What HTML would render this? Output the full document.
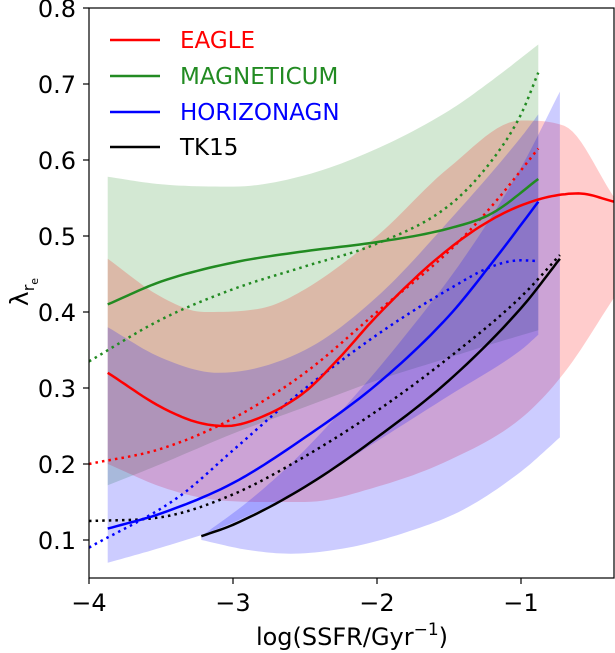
<!DOCTYPE html>
<html><head><meta charset="utf-8"><style>
html,body{margin:0;padding:0;background:#fff;}
svg{display:block;font-family:"DejaVu Sans","Liberation Sans",sans-serif;}
</style></head><body>
<svg id="chart" width="615" height="653" xmlns="http://www.w3.org/2000/svg">
<g id="bands"></g>
<g id="lines"></g>
<rect x="89" y="8" width="525" height="570" fill="none" stroke="#000" stroke-width="1.2"/>
<g id="ticks"></g>
<text x="352" y="645" font-size="24" text-anchor="middle">log(SSFR/Gyr<tspan font-size="17" dy="-10">−1</tspan><tspan dy="10">)</tspan></text>
<text transform="translate(28,292) rotate(-90)" font-size="25" text-anchor="middle">λ<tspan font-size="16" dy="6">r</tspan><tspan font-size="11" dy="4">e</tspan></text>
<g>
<line x1="110" y1="40" x2="160" y2="40" stroke="#ff0000" stroke-width="2.5"/>
<text x="180" y="48" font-size="23" fill="#ff0000">EAGLE</text>
<line x1="110" y1="76" x2="160" y2="76" stroke="#228b22" stroke-width="2.5"/>
<text x="180" y="84" font-size="23" fill="#228b22">MAGNETICUM</text>
<line x1="110" y1="112" x2="160" y2="112" stroke="#0000ff" stroke-width="2.5"/>
<text x="180" y="120" font-size="23" fill="#0000ff">HORIZONAGN</text>
<line x1="110" y1="147" x2="160" y2="147" stroke="#000" stroke-width="2.5"/>
<text x="180" y="155" font-size="23" fill="#000">TK15</text>
</g>
</svg>
<script>
const xTicks = [-4, -3, -2, -1];
const yTicks = [0.1, 0.2, 0.3, 0.4, 0.5, 0.6, 0.7, 0.8];
const xTickLabels = ["−4", "−3", "−2", "−1"];
const yTickLabels = ["0.1", "0.2", "0.3", "0.4", "0.5", "0.6", "0.7", "0.8"];

const greenBandX = [-3.87, -3.5, -3, -2.5, -2, -1.5, -1.2, -0.88];
const greenBandHi = [0.578, 0.568, 0.565, 0.58, 0.615, 0.665, 0.705, 0.752];
const greenBandLo = [0.172, 0.2, 0.24, 0.275, 0.31, 0.34, 0.358, 0.376];
const redBandX = [-3.87, -3.5, -3.2, -2.8, -2.5, -2, -1.5, -1, -0.7, -0.35];
const redBandHi = [0.47, 0.42, 0.40, 0.405, 0.43, 0.50, 0.59, 0.652, 0.645, 0.55];
const redBandLo = [0.2, 0.17, 0.155, 0.15, 0.15, 0.17, 0.205, 0.26, 0.32, 0.42];
const horizonBandX = [-3.87, -3.5, -3.1, -2.5, -2, -1.5, -1, -0.88];
const horizonBandHi = [0.38, 0.34, 0.32, 0.35, 0.42, 0.52, 0.63, 0.66];
const horizonBandLo = [0.07, 0.09, 0.115, 0.17, 0.23, 0.29, 0.35, 0.37];
const tkBandX = [-3.22, -2.9, -2.6, -2.2, -1.8, -1.4, -1, -0.73];
const tkBandHi = [0.105, 0.15, 0.2, 0.28, 0.37, 0.47, 0.59, 0.69];
const tkBandLo = [0.1, 0.087, 0.082, 0.09, 0.11, 0.14, 0.19, 0.235];

const eagleX = [-3.87, -3.5, -3.25, -3.05, -2.8, -2.5, -2.26, -2, -1.56, -1.2, -0.88, -0.6, -0.35];
const eagleY = [0.32, 0.275, 0.255, 0.25, 0.262, 0.295, 0.34, 0.395, 0.474, 0.522, 0.548, 0.556, 0.545];
const eagleDotX = [-4, -3.5, -3, -2.5, -2, -1.5, -1.2, -0.88];
const eagleDotY = [0.20, 0.22, 0.26, 0.32, 0.40, 0.48, 0.54, 0.615];
const magX = [-3.87, -3.5, -3, -2.5, -2, -1.5, -1.2, -0.88];
const magY = [0.41, 0.44, 0.465, 0.48, 0.492, 0.51, 0.53, 0.575];
const magDotX = [-4, -3.5, -3, -2.5, -2, -1.5, -1.2, -1, -0.88];
const magDotY = [0.335, 0.39, 0.43, 0.46, 0.49, 0.54, 0.60, 0.66, 0.715];
const horX = [-3.87, -3.5, -3, -2.5, -2, -1.5, -1.2, -0.88];
const horY = [0.115, 0.135, 0.175, 0.235, 0.305, 0.395, 0.465, 0.545];
const horDotX = [-4, -3.375, -3, -2.6, -2, -1.5, -1.2, -1, -0.88];
const horDotY = [0.09, 0.157, 0.218, 0.284, 0.37, 0.43, 0.46, 0.468, 0.467];
const tkX = [-3.22, -3, -2.5, -2, -1.5, -1, -0.73];
const tkY = [0.105, 0.12, 0.17, 0.235, 0.31, 0.405, 0.47];
const tkDotX = [-4, -3.5, -3, -2.5, -2, -1.5, -1, -0.73];
const tkDotY = [0.125, 0.13, 0.16, 0.21, 0.27, 0.34, 0.42, 0.475];

const X0 = 89, PXU = 144, Y0 = 8, PYU = 760;
function sx(v){ return X0 + (v + 4) * PXU; }
function sy(v){ return Y0 + (0.8 - v) * PYU; }
const NS = "http://www.w3.org/2000/svg";

function sample(xs, ys){
  const n = xs.length, d = [], m = [];
  for (let i=0;i<n-1;i++) d.push((ys[i+1]-ys[i])/(xs[i+1]-xs[i]));
  m[0] = d[0]; m[n-1] = d[n-2];
  for (let i=1;i<n-1;i++) m[i] = (d[i-1]*d[i] <= 0) ? 0 : (d[i-1]+d[i])/2;
  for (let i=0;i<n-1;i++){
    if (d[i] === 0){ m[i]=0; m[i+1]=0; continue; }
    const a = m[i]/d[i], b = m[i+1]/d[i], s = a*a+b*b;
    if (s > 9){ const t = 3/Math.sqrt(s); m[i]=t*a*d[i]; m[i+1]=t*b*d[i]; }
  }
  const out = [];
  for (let i=0;i<n-1;i++){
    const h = xs[i+1]-xs[i];
    for (let k=0;k<12;k++){
      const t = k/12, t2=t*t, t3=t2*t;
      const y = (2*t3-3*t2+1)*ys[i] + (t3-2*t2+t)*h*m[i] + (-2*t3+3*t2)*ys[i+1] + (t3-t2)*h*m[i+1];
      out.push([sx(xs[i]+t*h), sy(y)]);
    }
  }
  out.push([sx(xs[n-1]), sy(ys[n-1])]);
  return out;
}
function pathOf(p, move){
  return p.map((q,i)=>((i===0 ? (move?"M":"L") : "L") + q[0].toFixed(1) + "," + q[1].toFixed(1))).join("");
}
const bandsG = document.getElementById("bands");
const linesG = document.getElementById("lines");
function band(xs, hi, lo, color, name){
  const up = sample(xs, hi), dn = sample(xs, lo).reverse();
  const el = document.createElementNS(NS, "path");
  el.setAttribute("d", pathOf(up, true) + pathOf(dn, false) + "Z");
  el.setAttribute("fill", color);
  el.setAttribute("fill-opacity", "0.2");
  
  
  bandsG.appendChild(el);
}
function line(xs, ys, color, dotted, name){
  const el = document.createElementNS(NS, "path");
  el.setAttribute("d", pathOf(sample(xs, ys), true));
  el.setAttribute("fill", "none");
  el.setAttribute("stroke", color);
  el.setAttribute("stroke-width", "2.5");
  if (dotted) el.setAttribute("stroke-dasharray", "2.5 4.1");
  
  
  linesG.appendChild(el);
}
const clip = document.createElementNS(NS, "clipPath");
clip.setAttribute("id", "pc");
const cr = document.createElementNS(NS, "rect");
cr.setAttribute("x", 89); cr.setAttribute("y", 8); cr.setAttribute("width", 525); cr.setAttribute("height", 570);
clip.appendChild(cr);
document.getElementById("chart").appendChild(clip);
bandsG.setAttribute("clip-path", "url(#pc)");
linesG.setAttribute("clip-path", "url(#pc)");

band(greenBandX, greenBandHi, greenBandLo, "#228b22", "magneticum-band");
band(redBandX, redBandHi, redBandLo, "#ff0000", "eagle-band");
band(horizonBandX, horizonBandHi, horizonBandLo, "#0000ff", "horizonagn-band");
band(tkBandX, tkBandHi, tkBandLo, "#0000ff", "tk15-band");

line(eagleDotX, eagleDotY, "#ff0000", true, "eagle-dotted-line");
line(magDotX, magDotY, "#228b22", true, "magneticum-dotted-line");
line(horDotX, horDotY, "#0000ff", true, "horizonagn-dotted-line");
line(tkDotX, tkDotY, "#000000", true, "tk15-dotted-line");
line(eagleX, eagleY, "#ff0000", false, "eagle-line");
line(magX, magY, "#228b22", false, "magneticum-line");
line(horX, horY, "#0000ff", false, "horizonagn-line");
line(tkX, tkY, "#000000", false, "tk15-line");

const tg = document.getElementById("ticks");
xTicks.forEach((v,i)=>{
  const t = document.createElementNS(NS, "line");
  t.setAttribute("x1", sx(v)); t.setAttribute("x2", sx(v));
  t.setAttribute("y1", 578); t.setAttribute("y2", 584);
  t.setAttribute("stroke", "#000"); t.setAttribute("stroke-width", "1.2");
  
  
  tg.appendChild(t);
  const l = document.createElementNS(NS, "text");
  l.setAttribute("x", sx(v)); l.setAttribute("y", 611);
  l.setAttribute("font-size", "24"); l.setAttribute("text-anchor", "middle");
  l.textContent = xTickLabels[i];
  
  
  tg.appendChild(l);
});
yTicks.forEach((v,i)=>{
  const t = document.createElementNS(NS, "line");
  t.setAttribute("x1", 83); t.setAttribute("x2", 89);
  t.setAttribute("y1", sy(v)); t.setAttribute("y2", sy(v));
  t.setAttribute("stroke", "#000"); t.setAttribute("stroke-width", "1.2");
  
  
  tg.appendChild(t);
  const l = document.createElementNS(NS, "text");
  l.setAttribute("x", 76); l.setAttribute("y", sy(v) + 9);
  l.setAttribute("font-size", "24"); l.setAttribute("text-anchor", "end");
  l.textContent = yTickLabels[i];
  
  
  tg.appendChild(l);
});
</script>
</body></html>
